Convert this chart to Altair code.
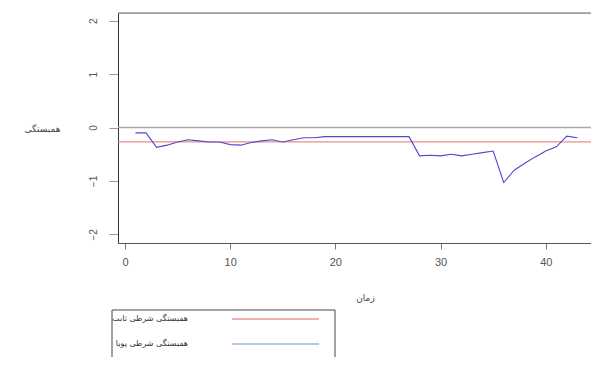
import altair as alt
import pandas as pd

# ---- data ----
time = list(range(1, 44))
dcc = [-0.10, -0.10, -0.37, -0.33, -0.27, -0.23, -0.25, -0.27, -0.27, -0.32,
       -0.33, -0.28, -0.25, -0.23, -0.27, -0.23, -0.19, -0.19, -0.17, -0.17,
       -0.17, -0.17, -0.17, -0.17, -0.17, -0.17, -0.17, -0.53, -0.52, -0.53,
       -0.50, -0.53, -0.50, -0.47, -0.44, -1.03, -0.80, -0.67, -0.55, -0.44,
       -0.36, -0.16, -0.19]
ccc_value = [-0.27]
zero_line = [0]
x_ticks = [0, 10, 20, 30, 40]
y_ticks = [-2, -1, 0, 1, 2]
legend_labels = ["همبستگی شرطی ثابت", "همبستگی شرطی پویا"]
legend_colors = ["#e06464", "#7094d0"]
x_title = "زمان"
y_title = "همبستگی"

df = pd.DataFrame({"t": time, "v": dcc})

W, H = 473, 230
PERS = "DejaVu Sans"
NUM = "Liberation Sans"

xscale = alt.Scale(domain=[-0.665, 44.3], nice=False, zero=False)
yscale = alt.Scale(domain=[-2.163, 2.146], nice=False, zero=False)

line = alt.Chart(df).mark_line(color="#4b4bc8", strokeWidth=1.1, clip=True).encode(
    x=alt.X("t:Q", scale=xscale,
            axis=alt.Axis(values=x_ticks, title=x_title, grid=False,
                          domainColor="#555", tickColor="#777", tickSize=6,
                          labelColor="#555", labelFont=NUM, labelFontSize=11,
                          labelPadding=7, titleFont=PERS, titleFontSize=9,
                          titleFontWeight="normal", titleColor="#444",
                          titleX=247, titleY=54, titleAlign="center",
                          titleBaseline="middle")),
    y=alt.Y("v:Q", scale=yscale,
            axis=alt.Axis(values=y_ticks, title=y_title, grid=False,
                          domainColor="#333", tickColor="#999", tickSize=9,
                          labelColor="#555", labelFont=NUM, labelFontSize=10,
                          labelAngle=270, labelAlign="center",
                          labelBaseline="bottom", labelPadding=11,
                          titleFont=PERS, titleFontSize=9,
                          titleFontWeight="normal", titleColor="#444",
                          titleAngle=0, titleAlign="right",
                          titleBaseline="middle", titleX=-58, titleY=115)),
)

zero = alt.Chart(pd.DataFrame({"y": zero_line})).mark_rule(
    color="#aaaaaa", strokeWidth=1.5).encode(y=alt.Y("y:Q", scale=yscale))
ccc = alt.Chart(pd.DataFrame({"y": ccc_value})).mark_rule(
    color="#f08a8a", strokeWidth=1.2).encode(y=alt.Y("y:Q", scale=yscale))

one = pd.DataFrame({"a": [0]})
top = alt.Chart(one).mark_rule(color="#666", strokeWidth=1).encode(
    y=alt.value(0), x=alt.value(0), x2=alt.value(W))

# ---- legend (drawn below the plot) ----
lx0, lx1, ly0, ly1 = -6, 217, 297, 344
box_top = alt.Chart(one).mark_rule(color="#444", strokeWidth=1).encode(
    x=alt.value(lx0), x2=alt.value(lx1), y=alt.value(ly0))
box_left = alt.Chart(one).mark_rule(color="#444", strokeWidth=1).encode(
    x=alt.value(lx0), y=alt.value(ly0), y2=alt.value(ly1))
box_right = alt.Chart(one).mark_rule(color="#444", strokeWidth=1).encode(
    x=alt.value(lx1), y=alt.value(ly0), y2=alt.value(ly1))

leg_layers = []
for i, (lab, col) in enumerate(zip(legend_labels, legend_colors)):
    yy = 306 + 25 * i
    leg_layers.append(alt.Chart(one).mark_rule(color=col, strokeWidth=1.2).encode(
        x=alt.value(114), x2=alt.value(201), y=alt.value(yy)))
    leg_layers.append(alt.Chart(one).mark_text(
        align="right", baseline="middle", font=PERS, fontSize=8, color="#333").encode(
        x=alt.value(70), y=alt.value(yy), text=alt.value(lab)))

chart = alt.layer(zero, ccc, line, top, box_top, box_left, box_right, *leg_layers).properties(
    width=W, height=H,
    autosize=alt.AutoSizeParams(type="none"),
    padding={"left": 110, "top": 5, "right": 0, "bottom": 114},
).configure_view(stroke=None).configure(background="white")

chart.save("out.html", embed_options={"renderer": "svg", "actions": False})
